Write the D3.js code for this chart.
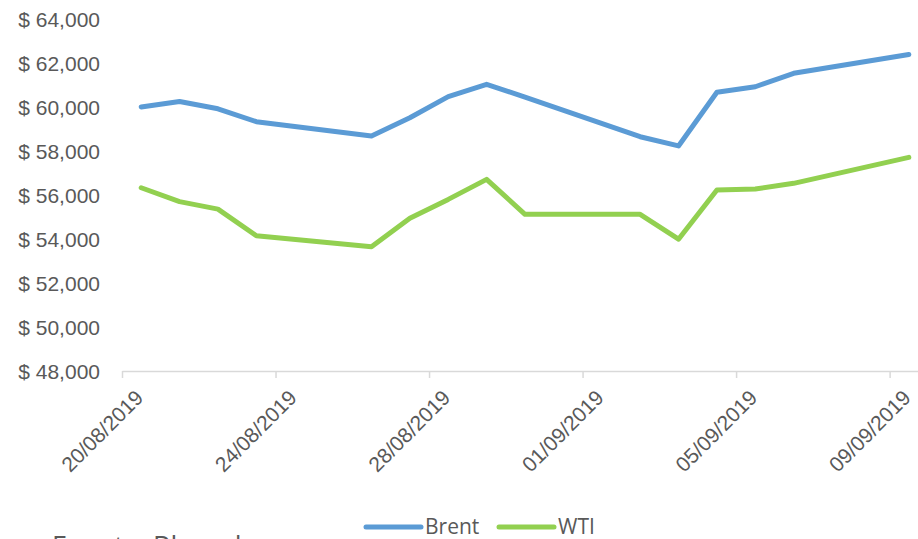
<!DOCTYPE html>
<html>
<head>
<meta charset="utf-8">
<script src="https://cdn.jsdelivr.net/npm/d3@7"></script>
<style>
  body { margin: 0; background: #fff; }
  #chart { width: 918px; height: 539px; }
  svg { display: block; font-family: 'Open Sans', sans-serif; }
  .tick-label, .legend-label, .source { fill: #595959; }
</style>
</head>
<body>
<div id="chart"></div>
<script>
// Daily closing prices, Brent and WTI (weekends are skipped)
var dates = [
  '2019-08-20', '2019-08-21', '2019-08-22', '2019-08-23', '2019-08-26',
  '2019-08-27', '2019-08-28', '2019-08-29', '2019-08-30', '2019-09-02',
  '2019-09-03', '2019-09-04', '2019-09-05', '2019-09-06', '2019-09-09',
];
var brent = [60000, 60250, 59920, 59330, 58680, 59510, 60470, 61030, 60450, 58650, 58230, 60670, 60920, 61530, 62390];
var wti = [56330, 55700, 55360, 54150, 53650, 54940, 55800, 56710, 55120, 55120, 53990, 56230, 56270, 56530, 57710];

var yTicks = [48000, 50000, 52000, 54000, 56000, 58000, 60000, 62000, 64000];
var xTickDates = ['2019-08-20', '2019-08-24', '2019-08-28', '2019-09-01', '2019-09-05', '2019-09-09'];

var seriesNames = ['Brent', 'WTI'];
var seriesColors = ['#5b9bd5', '#92d050'];

var width = 918, height = 539;
var parse = d3.timeParse('%Y-%m-%d');

// x is a date axis, points sit in the middle of each day slot
var x = d3
  .scaleTime()
  .domain([parse('2019-08-20'), parse('2019-09-10')])
  .range([122, 928]);

var y = d3.scaleLinear().domain([48000, 64000]).range([371, 19]);

var series = [brent, wti].map((values, i) => ({
  name: seriesNames[i],
  color: seriesColors[i],
  points: values.map((v, j) => ({ date: d3.timeHour.offset(parse(dates[j]), 12), value: v })),
}));

var svg = d3
  .select('#chart')
  .append('svg')
  .attr('width', width)
  .attr('height', height)
  .attr('viewBox', `0 0 ${width} ${height}`);

// Left axis: labels only, no line
var yAxis = d3
  .axisLeft(y)
  .tickValues(yTicks)
  .tickSize(0)
  .tickPadding(0)
  .tickFormat((d) => '$ ' + d3.format(',')(d));

svg
  .append('g')
  .attr('transform', 'translate(100,0)')
  .call(yAxis)
  .call((g) => g.select('.domain').remove())
  .call((g) =>
    g
      .selectAll('text')
      .classed('tick-label', true)
      .attr('fill', null)
      .attr('dy', '0.35em')
      .style('font-size', '21px')
  );

// Bottom axis with rotated date labels
var xAxis = d3
  .axisBottom(x)
  .tickValues(xTickDates.map(parse))
  .tickSizeInner(7)
  .tickSizeOuter(0)
  .tickFormat(d3.timeFormat('%d/%m/%Y'));

svg
  .append('g')
  .attr('transform', 'translate(0,371)')
  .call(xAxis)
  .call((g) => g.select('.domain').attr('stroke', '#d9d9d9').attr('stroke-width', 1.5))
  .call((g) => g.selectAll('.tick line').attr('stroke', '#d9d9d9').attr('stroke-width', 1.5))
  .call((g) =>
    g
      .selectAll('.tick text')
      .classed('tick-label', true)
      .attr('fill', null)
      .attr('y', 0)
      .attr('dy', 0)
      .attr('text-anchor', 'end')
      .attr('transform', 'translate(22,28) rotate(-45)')
      .style('font-size', '21px')
  );

// Lines
var line = d3
  .line()
  .x((d) => x(d.date))
  .y((d) => y(d.value));

svg
  .append('g')
  .selectAll('path')
  .data(series)
  .join('path')
  .attr('d', (d) => line(d.points))
  .attr('fill', 'none')
  .attr('stroke', (d) => d.color)
  .attr('stroke-width', 5)
  .attr('stroke-linejoin', 'round')
  .attr('stroke-linecap', 'round');

// Legend
var legendX = [366, 499];
var legend = svg
  .append('g')
  .selectAll('g')
  .data(series)
  .join('g')
  .attr('transform', (d, i) => `translate(${legendX[i]},527)`);
legend
  .append('line')
  .attr('x1', 0)
  .attr('x2', 55)
  .attr('stroke', (d) => d.color)
  .attr('stroke-width', 5)
  .attr('stroke-linecap', 'round');
legend
  .append('text')
  .classed('legend-label', true)
  .attr('x', 59)
  .attr('y', 7)
  .style('font-size', '21px')
  .text((d) => d.name);

// Source note, cut off by the bottom edge
svg
  .append('text')
  .classed('source', true)
  .attr('x', 52)
  .attr('y', 556)
  .style('font-size', '27px')
  .text('Fuente: Bloomberg');
</script>
</body>
</html>
